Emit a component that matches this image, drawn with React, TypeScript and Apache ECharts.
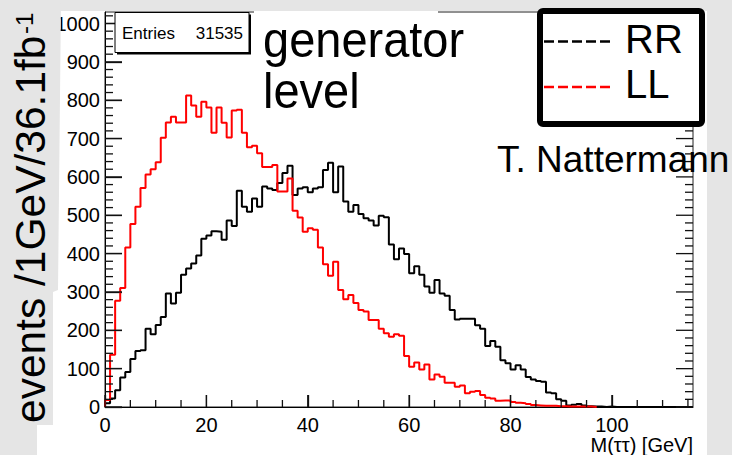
import React, { useEffect, useRef } from 'react';
import * as echarts from 'echarts';

// ---- data (events per 1 GeV bin, bin i = [i, i+1) GeV) ----
const xMin = 0;
const xMax = 116;
const yMin = 0;
const yMax = 1030;
const xMajorStep = 20;
const xMinorStep = 5;
const yMajorStep = 100;
const yMinorStep = 20;
const xLastMajor = 100;
const yLastMajor = 1000;

const rrCounts = [
  10, 22, 44, 77, 91, 125, 146, 148, 204, 190,
  214, 235, 296, 270, 298, 345, 361, 374, 395, 439,
  447, 458, 457, 436, 486, 472, 564, 522, 509, 544,
  522, 575, 570, 566, 584, 610, 629, 553, 570, 573,
  560, 570, 573, 618, 637, 560, 627, 536, 509, 527,
  503, 492, 486, 473, 499, 495, 424, 385, 413, 399,
  349, 367, 345, 314, 298, 331, 296, 290, 253, 228,
  230, 230, 230, 213, 204, 159, 172, 157, 122, 114,
  98, 109, 98, 78, 72, 68, 66, 38, 36, 20,
  16, 4, 6, 8, 4, 2, 1, 1, 0, 1,
  0, 0, 0, 0, 0, 0, 0, 0, 0, 0,
  0, 0, 0, 0, 0, 0,
];

const llCounts = [
  18, 136, 277, 310, 416, 477, 522, 571, 606, 620,
  638, 702, 742, 757, 742, 742, 812, 786, 757, 796,
  781, 715, 781, 741, 703, 773, 775, 715, 677, 681,
  662, 626, 626, 631, 562, 562, 596, 512, 494, 457,
  466, 462, 416, 372, 342, 379, 305, 281, 292, 271,
  253, 249, 227, 227, 204, 192, 183, 190, 186, 133,
  105, 116, 98, 111, 72, 85, 79, 63, 63, 53,
  56, 36, 40, 42, 31, 24, 22, 16, 17, 17,
  13, 11, 10, 8, 5, 4, 3, 3, 3, 2,
  2, 1, 1, 1, 1, 1, 0, 0, 0, 0,
  0, 0, 0, 0, 0, 0, 0, 0, 0, 0,
  0, 0, 0, 0, 0, 0,
];

const seriesNames = ['RR', 'LL'];
const seriesColors = ['#000000', '#ff0000'];
const entriesLabel = 'Entries';
const entriesCount = '31535';
const yTitle = 'events /1GeV/36.1fb';
const yTitleSup = '-1';
const xTitle = 'M(\u03c4\u03c4) [GeV]';
const note1 = 'generator';
const note2 = 'level';
const author = 'T. Nattermann';

const FONT = "'Liberation Sans', Arial, Helvetica, sans-serif";
const GRAY = '#e5e5e5';

// histogram outline points for a step line; optionally stop after the last non-zero bin
function toSteps(counts: number[], trimTail: boolean): number[][] {
  let n = counts.length;
  if (trimTail) {
    while (n > 0 && counts[n - 1] === 0) n--;
    n = Math.min(counts.length, n + 1);
  }
  const pts: number[][] = [[0, 0]];
  for (let i = 0; i < n; i++) pts.push([i, counts[i]]);
  pts.push([n, counts[n - 1]]);
  return pts;
}

// ROOT-style inward ticks: [side (0 bottom, 1 left, 2 right), value, length]
function buildTicks(): number[][] {
  const t: number[][] = [];
  for (let v = xMin; v <= xLastMajor; v += xMajorStep) t.push([0, v, 12]);
  for (let v = xMin; v < xMax; v += xMinorStep) if (v % xMajorStep !== 0) t.push([0, v, 7]);
  for (let v = yMin; v <= yLastMajor; v += yMajorStep) { t.push([1, v, 17]); t.push([2, v, 17]); }
  for (let v = yMin; v < yMax; v += yMinorStep) if (v % yMajorStep !== 0) { t.push([1, v, 8]); t.push([2, v, 8]); }
  return t;
}

export default function App() {
  const ref = useRef<HTMLDivElement>(null);

  useEffect(() => {
    if (!ref.current) return;
    const chart = echarts.init(ref.current, undefined, { renderer: 'svg' });

    const plain = (v: number) => String(v);

    const option: any = {
      animation: false,
      grid: {
        left: 105,
        top: 12,
        width: 588,
        height: 395,
        show: true,
        borderColor: '#222',
      },
      xAxis: [
        {
          type: 'value', min: xMin, max: xMax, interval: xMajorStep,
          axisLine: { show: true, lineStyle: { color: '#000' } },
          axisTick: { show: true, inside: true, length: 12, lineStyle: { color: '#111', width: 1.3 } },
          axisLabel: { fontSize: 20, color: '#000', fontFamily: FONT, margin: 8, showMaxLabel: false, formatter: plain },
          splitLine: { show: false },
        },
      ],
      yAxis: [
        {
          type: 'value', min: yMin, max: yMax, interval: yMajorStep,
          axisLine: { show: true, lineStyle: { color: '#000' } },
          axisTick: { show: true, inside: true, length: 17, lineStyle: { color: '#111', width: 1.3 } },
          axisLabel: { fontSize: 20, color: '#000', fontFamily: FONT, margin: 5, showMaxLabel: false, formatter: plain },
          splitLine: { show: false },
        },
      ],
      series: [
        {
          type: 'line', name: seriesNames[0], data: toSteps(rrCounts, false), step: 'end',
          symbol: 'none',
          lineStyle: { color: seriesColors[0], width: 2 }, itemStyle: { color: seriesColors[0] },
        },
        {
          type: 'line', name: seriesNames[1], data: toSteps(llCounts, true), step: 'end',
          symbol: 'none',
          lineStyle: { color: seriesColors[1], width: 2 }, itemStyle: { color: seriesColors[1] },
        },
        {
          type: 'custom', name: 'ticks', silent: true, z: 5, clip: false,
          data: buildTicks(),
          renderItem: (_params: any, api: any) => {
            const side = api.value(0);
            const v = api.value(1);
            const len = api.value(2);
            const style = { stroke: '#111111', lineWidth: 1.3, fill: null };
            if (side === 0) {
              const p = api.coord([v, yMin]);
              return { type: 'line', shape: { x1: p[0], y1: p[1], x2: p[0], y2: p[1] - len }, style };
            }
            if (side === 1) {
              const p = api.coord([xMin, v]);
              return { type: 'line', shape: { x1: p[0], y1: p[1], x2: p[0] + len, y2: p[1] }, style };
            }
            const p = api.coord([xMax, v]);
            return { type: 'line', shape: { x1: p[0], y1: p[1], x2: p[0] - len, y2: p[1] }, style };
          },
        },
      ],
      graphic: [
        // gray surroundings of the white canvas
        { type: 'rect', z: 15, silent: true, shape: { x: 0, y: 0, width: 732, height: 11 }, style: { fill: GRAY } },
        { type: 'rect', z: 15, silent: true, shape: { x: 707, y: 0, width: 25, height: 455 }, style: { fill: GRAY } },
        { type: 'rect', z: 15, silent: true, shape: { x: 0, y: 0, width: 37, height: 455 }, style: { fill: GRAY } },
        // white box behind "generator level"
        { type: 'rect', z: 20, silent: true, shape: { x: 254, y: 11, width: 184, height: 100 }, style: { fill: '#ffffff' } },
        { type: 'text', z: 21, x: 263, y: 39, scaleY: 1.08, style: { text: note1, fontSize: 47, fontFamily: FONT, fill: '#000', align: 'left', verticalAlign: 'middle' } },
        { type: 'text', z: 21, x: 263, y: 90, scaleY: 1.08, style: { text: note2, fontSize: 47, fontFamily: FONT, fill: '#000', align: 'left', verticalAlign: 'middle' } },
        // Entries stats box
        { type: 'rect', z: 20, silent: true, shape: { x: 117, y: 14.5, width: 134, height: 40 }, style: { fill: '#000' } },
        { type: 'rect', z: 21, silent: true, shape: { x: 115, y: 12.5, width: 134, height: 40 }, style: { fill: '#fff', stroke: '#000', lineWidth: 1 } },
        { type: 'text', z: 22, x: 122, y: 33, style: { text: entriesLabel, fontSize: 17, fontFamily: FONT, fill: '#000', align: 'left', verticalAlign: 'middle' } },
        { type: 'text', z: 22, x: 243, y: 33, style: { text: entriesCount, fontSize: 17, fontFamily: FONT, fill: '#000', align: 'right', verticalAlign: 'middle' } },
        // legend box
        { type: 'rect', z: 20, silent: true, shape: { x: 540, y: 11, width: 162, height: 113, r: 3 }, style: { fill: '#fff', stroke: '#000', lineWidth: 6 } },
        { type: 'line', z: 21, silent: true, shape: { x1: 544, y1: 41.5, x2: 612, y2: 41.5 }, style: { stroke: seriesColors[0], lineWidth: 2.5, lineDash: [10, 4] } },
        { type: 'line', z: 21, silent: true, shape: { x1: 544, y1: 87, x2: 612, y2: 87 }, style: { stroke: seriesColors[1], lineWidth: 2.5, lineDash: [10, 4] } },
        { type: 'text', z: 21, x: 625, y: 39, style: { text: seriesNames[0], fontSize: 40, fontFamily: FONT, fill: '#000', align: 'left', verticalAlign: 'middle' } },
        { type: 'text', z: 21, x: 625, y: 84, style: { text: seriesNames[1], fontSize: 40, fontFamily: FONT, fill: '#000', align: 'left', verticalAlign: 'middle' } },
        // author
        { type: 'text', z: 21, x: 497, y: 159, style: { text: author, fontSize: 37, fontFamily: FONT, fill: '#000', align: 'left', verticalAlign: 'middle' } },
        // x-axis title
        { type: 'text', z: 21, x: 693, y: 445, style: { text: xTitle, fontSize: 20, fontFamily: FONT, fill: '#000', align: 'right', verticalAlign: 'middle' } },
        // gray y-title box
        { type: 'polygon', z: 30, silent: true, shape: { points: [[0, 0], [61, 0], [58, 290], [53, 292], [53, 425], [0, 425]] }, style: { fill: GRAY } },
        { type: 'text', z: 31, x: 30.5, y: 423, rotation: Math.PI / 2, style: { text: yTitle, fontSize: 42.5, fontFamily: FONT, fill: '#000', align: 'left', verticalAlign: 'middle' } },
        { type: 'text', z: 31, x: 24.5, y: 34, rotation: Math.PI / 2, style: { text: yTitleSup, fontSize: 24, fontFamily: FONT, fill: '#000', align: 'left', verticalAlign: 'middle' } },
      ],
    };

    chart.setOption(option);
    return () => chart.dispose();
  }, []);

  return (
    <div
      ref={ref}
      style={{ position: 'absolute', left: 0, top: 0, width: 732, height: 455, background: '#fff' }}
    />
  );
}
